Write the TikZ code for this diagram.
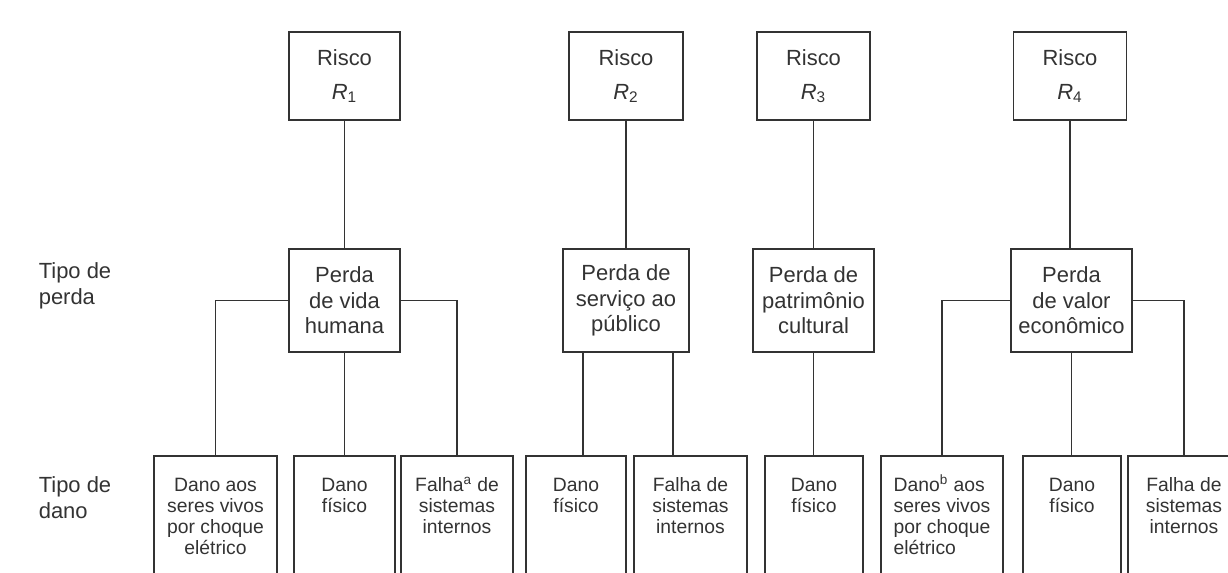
\documentclass[tikz,border=0pt]{standalone}
\usepackage{fontspec}
\setmainfont{Liberation Sans}
\usetikzlibrary{positioning}
\definecolor{ink}{HTML}{333333}

\begin{document}
\begin{tikzpicture}[x=0.02cm, y=-0.02cm, ink, line width=0.9pt,
		big/.style={font=\fontsize{12.5}{14.5}\selectfont},
		small/.style={font=\fontsize{11}{12}\selectfont},
		box/.style={draw, rectangle, inner sep=0pt, align=center, big},
		rbox/.style={box, minimum height=1.76cm},
		pbox/.style={box, minimum height=2.06cm},
		dbox/.style={draw, rectangle, anchor=north, minimum height=3cm},
		dtext/.style={small, inner sep=0pt, align=center, below=0.44cm of #1}]
			\useasboundingbox (0,0) rectangle (1228,573);
			\clip (0,0) rectangle (1228,573);

			% risco
			\node[rbox, minimum width=2.22cm] (r1) at (344.5,76) {Risco\\[4.8pt]\textit{R}\textsubscript{1}};
			\node[rbox, minimum width=2.28cm] (r2) at (626,76) {Risco\\[4.8pt]\textit{R}\textsubscript{2}};
			\node[rbox, minimum width=2.26cm] (r3) at (813.5,76) {Risco\\[4.8pt]\textit{R}\textsubscript{3}};
			\node[rbox, minimum width=2.26cm] (r4) at (1070,76) {Risco\\[4.8pt]\textit{R}\textsubscript{4}};

			% tipo de perda
			\node[big, anchor=north west, inner sep=0pt, align=left] (lperda) at (38,262) {Tipo de\\perda};
			\node[pbox, minimum width=2.22cm] (p1) at (344.5,300.5) {Perda\\de vida\\humana};
			\node[pbox, minimum width=2.52cm] (p2) at (626,300.5) {Perda de\\serviço ao\\público};
			\node[pbox, minimum width=2.42cm] (p3) at (813.5,300.5) {Perda de\\patrimônio\\cultural};
			\node[pbox, minimum width=2.42cm] (p4) at (1071.5,300.5) {Perda\\de valor\\econômico};

			% tipo de dano
			\node[big, anchor=north west, inner sep=0pt, align=left] (ldano) at (38,476) {Tipo de\\dano};
			\node[dbox, minimum width=2.46cm] (d1) at (215.5,455) {};
			\node[dbox, minimum width=2.02cm] (d2) at (344.5,455) {};
			\node[dbox, minimum width=2.24cm] (d3) at (457,455) {};
			\node[dbox, minimum width=2.0cm] (d4) at (576,455) {};
			\node[dbox, minimum width=2.26cm] (d5) at (690.5,455) {};
			\node[dbox, minimum width=1.96cm] (d6) at (814,455) {};
			\node[dbox, minimum width=2.44cm] (d7) at (942,455) {};
			\node[dbox, minimum width=1.96cm] (d8) at (1072,455) {};
			\node[dbox, minimum width=2.24cm] (d9) at (1184,455) {};

			\node[dtext=d1.north] (d1t) {Dano aos\\seres vivos\\por choque\\elétrico};
			\node[dtext=d2.north] (d2t) {Dano\\físico};
			\node[dtext=d3.north] (d3t) {Falha\smash{\textsuperscript{a}} de\\sistemas\\internos};
			\node[dtext=d4.north] (d4t) {Dano\\físico};
			\node[dtext=d5.north] (d5t) {Falha de\\sistemas\\internos};
			\node[dtext=d6.north] (d6t) {Dano\\físico};
			\node[dtext=d7.north, align=left] (d7t) {Dano\smash{\textsuperscript{b}} aos\\seres vivos\\por choque\\elétrico};
			\node[dtext=d8.north] (d8t) {Dano\\físico};
			\node[dtext=d9.north] (d9t) {Falha de\\sistemas\\internos};

			% ligacoes
			\draw (r1.south) -- (r1.south |- p1.north);
			\draw (r2.south) -- (r2.south |- p2.north);
			\draw (r3.south) -- (r3.south |- p3.north);
			\draw (r4.south) -- (r4.south |- p4.north);

			\draw (p1.west) -| (d1.north);
			\draw (p1.south) -- (p1.south |- d2.north);
			\draw (p1.east) -| (d3.north);

			\coordinate (p2l) at ([xshift=-0.86cm]p2.south);
			\coordinate (p2r) at ([xshift=0.94cm]p2.south);
			\draw (p2l) -- (p2l |- d4.north);
			\draw (p2r) -- (p2r |- d5.north);

			\draw (p3.south) -- (p3.south |- d6.north);

			\draw (p4.west) -| (d7.north);
			\draw (p4.south) -- (p4.south |- d8.north);
			\draw (p4.east) -| (d9.north);
		\end{tikzpicture}
\end{document}
